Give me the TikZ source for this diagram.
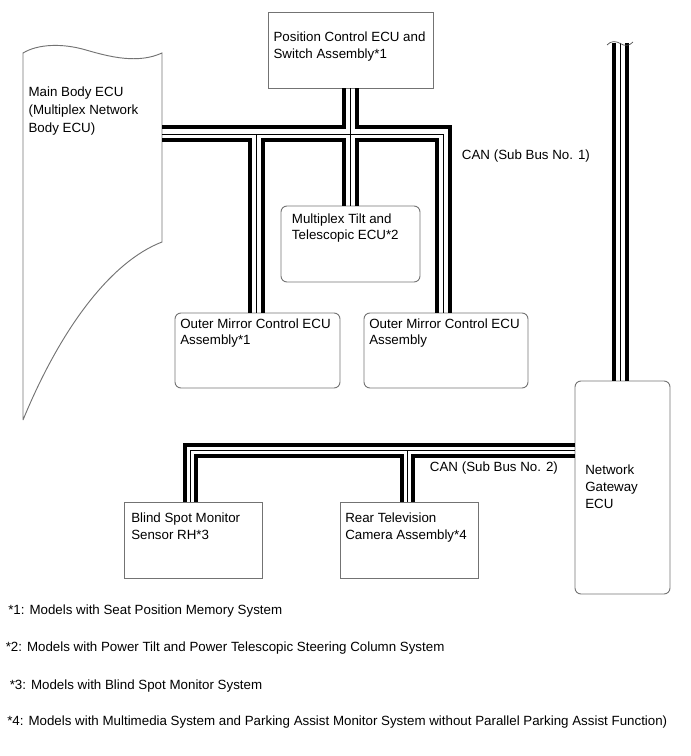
\documentclass[tikz,border=0pt]{standalone}
\usepackage{fontspec}
\setmainfont{Liberation Sans}
\usetikzlibrary{fit}
\newcommand\mlines[1]{\begin{tabular}[t]{@{}l@{}}#1\end{tabular}}
\begin{document}
\begin{tikzpicture}[x=0.75pt,y=-0.75pt,
  outl/.style={draw=black!55, line width=0.7pt},
  box/.style={outl, inner sep=0pt},
  rbox/.style={box, rounded corners=4.5pt},
  txt/.style={anchor=base west, inner sep=0pt, font=\fontsize{10pt}{12.5pt}\selectfont},
  txtmb/.style={txt, font=\fontsize{10pt}{13.6pt}\selectfont},
  buswide/.style={line width=3pt, line join=miter},
  busthin/.style={line width=0.7pt},
]
\useasboundingbox (0,0) rectangle (690,756);

% ---- boxes
\node[box,  fit={(268,12) (433,88)}] (pc) {};
\node[rbox, fit={(281,206) (420,282)}] (mt) {};
\node[rbox, fit={(175,313) (340,388)}] (om1) {};
\node[rbox, fit={(364,313) (528,388)}] (om2) {};
\node[box,  fit={(124,502) (262,578)}] (bs) {};
\node[box,  fit={(340,502) (478,578)}] (rt) {};
\node[rbox, fit={(575,381) (670,594)}] (gw) {};

% ---- main body ECU (torn-edge shape)
\draw[outl] (23,420) -- (23,53)
  .. controls (38,44) and (62,43) .. (86,50)
  .. controls (110,57) and (138,64) .. (162,53)
  -- (162,242)
  .. controls (110,262) and (60,330) .. (23,420);
\coordinate (mbo) at (162,127.5);
\coordinate (mbt) at (162,134);
\coordinate (mbi) at (162,140.5);

% ---- texts
\node[txtmb] (tmb) at (28.3,96.5) {\mlines{Main Body ECU\\(Multiplex Network\\Body ECU)}};
\node[txt] (tpc) at (273.3,41.5) {\mlines{Position Control ECU and\\Switch Assembly*1}};
\node[txt] (tmt) at (291.7,223) {\mlines{Multiplex Tilt and\\Telescopic ECU*2}};
\node[txt] (tom1) at (180,328) {\mlines{Outer Mirror Control ECU\\Assembly*1}};
\node[txt] (tom2) at (369,328) {\mlines{Outer Mirror Control ECU\\Assembly}};
\node[txt] (tcan1) at (461.7,159.8) {CAN (Sub Bus No. 1)};
\node[txt] (tbs) at (131,522.8) {\mlines{Blind Spot Monitor\\Sensor RH*3}};
\node[txt] (trt) at (345,522.8) {\mlines{Rear Television\\Camera Assembly*4}};
\node[txt] (tcan2) at (429.7,471.8) {CAN (Sub Bus No. 2)};
\node[txt] (tgw) at (585,474.8) {\mlines{Network\\Gateway\\ECU}};

\node[txt] (f1) at (8,614.5) {*1: Models with Seat Position Memory System};
\node[txt] (f2) at (5.5,651.5) {*2: Models with Power Tilt and Power Telescopic Steering Column System};
\node[txt] (f3) at (9.5,689.5) {*3: Models with Blind Spot Monitor System};
\node[txt] (f4) at (7,725.5) {*4: Models with Multimedia System and Parking Assist Monitor System without Parallel Parking Assist Function)};

% ---- bus 1 (CAN sub bus no. 1)
\coordinate (a1) at (249.5,0); \coordinate (a2) at (256,0);   \coordinate (a3) at (262.5,0);
\coordinate (b1) at (344.2,0); \coordinate (b2) at (350.7,0); \coordinate (b3) at (357.2,0);
\coordinate (c1) at (436.8,0); \coordinate (c2) at (443.3,0); \coordinate (c3) at (449.8,0);
\coordinate (yo1) at (0,127.5); \coordinate (yt1) at (0,134); \coordinate (yi1) at (0,140.5);

\draw[buswide] (mbo) -| (b1 |- pc.south);
\draw[buswide] (b3 |- pc.south) |- (c3 |- yo1) -- (c3 |- om2.north);
\draw[busthin] (mbt) -| (c2 |- om2.north);
\draw[busthin] (b2 |- pc.south) -- (b2 |- mt.north);
\draw[busthin] (a2 |- yt1) -- (a2 |- om1.north);
\draw[buswide] (mbi) -| (a1 |- om1.north);
\draw[buswide] (a3 |- om1.north) |- (b1 |- yi1) -- (b1 |- mt.north);
\draw[buswide] (b3 |- mt.north) |- (c1 |- yi1) -- (c1 |- om2.north);

% ---- bus 2 (CAN sub bus no. 2)
\coordinate (d1) at (185,0);   \coordinate (d2) at (190.5,0); \coordinate (d3) at (196,0);
\coordinate (e1) at (402.3,0); \coordinate (e2) at (407.8,0); \coordinate (e3) at (413.3,0);
\coordinate (yo2) at (0,444.5); \coordinate (yt2) at (0,450); \coordinate (yi2) at (0,455.5);

\draw[buswide] (gw.west |- yo2) -| (d1 |- bs.north);
\draw[busthin] (gw.west |- yt2) -| (d2 |- bs.north);
\draw[busthin] (e2 |- yt2) -- (e2 |- rt.north);
\draw[buswide] (d3 |- bs.north) |- (e1 |- yi2) -- (e1 |- rt.north);
\draw[buswide] (e3 |- rt.north) |- (gw.west |- yi2);

% ---- main bus up to gateway
\coordinate (f1x) at (614,0); \coordinate (f2x) at (620.3,0); \coordinate (f3x) at (626.6,0);
\coordinate (ytop) at (0,43);
\draw[buswide] (f1x |- ytop) -- (f1x |- gw.north);
\draw[busthin] (f2x |- ytop) -- (f2x |- gw.north);
\draw[buswide] (f3x |- ytop) -- (f3x |- gw.north);
\draw[black!70, line width=0.5pt] (607,45) .. controls (611,40.5) and (616,41) .. (620.3,43.5)
  .. controls (624,46) and (629,46.5) .. (633,42);
\end{tikzpicture}
\end{document}
